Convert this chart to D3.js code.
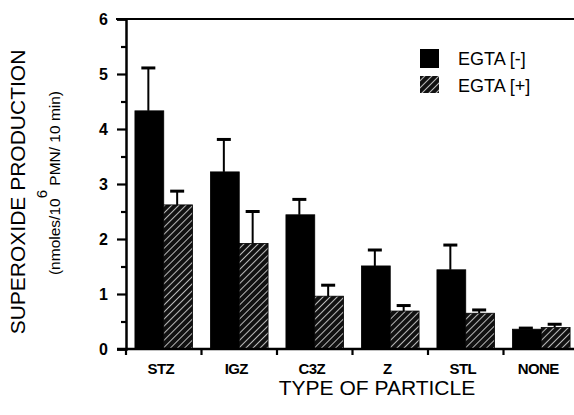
<!DOCTYPE html>
<html lang="en">
<head>
    <meta charset="UTF-8">
    <title>Superoxide production</title>
    <script src="https://d3js.org/d3.v7.min.js"></script>
    <style>
        body { margin: 0; background: #fff; }
        svg { display: block; font-family: "Liberation Sans", Arial, sans-serif; }
    </style>
</head>
<body>
<div id="chart-container"></div>
<script>
    // Data
    const categories = ["STZ", "IGZ", "C3Z", "Z", "STL", "NONE"];
    const seriesNames = ["EGTA [-]", "EGTA [+]"];
    const egtaMinus = [4.33, 3.22, 2.44, 1.51, 1.44, 0.36];
    const egtaMinusErr = [5.11, 3.81, 2.72, 1.80, 1.89, 0.38];
    const egtaPlus = [2.62, 1.92, 0.96, 0.69, 0.65, 0.39];
    const egtaPlusErr = [2.87, 2.50, 1.16, 0.79, 0.71, 0.45];
    const yTicks = [0, 1, 2, 3, 4, 5, 6];

    const width = 574, height = 415;
    const margin = { top: 19, left: 126, bottom: 66 };
    const plotRight = 579;

    // Rows for the grouped bars
    const rows = categories.map((c, i) => ({
        cat: c,
        bars: [
            { s: seriesNames[0], v: egtaMinus[i], e: egtaMinusErr[i] },
            { s: seriesNames[1], v: egtaPlus[i], e: egtaPlusErr[i] }
        ]
    }));

    const svg = d3.select("#chart-container")
        .append("svg")
        .attr("width", width)
        .attr("height", height);

    // hatch pattern: black with thin white diagonals
    const defs = svg.append("defs");
    const pat = defs.append("pattern")
        .attr("id", "hatch")
        .attr("patternUnits", "userSpaceOnUse")
        .attr("width", 5)
        .attr("height", 5)
        .attr("patternTransform", "rotate(45)");
    pat.append("rect").attr("width", 5).attr("height", 5).attr("fill", "#111");
    pat.append("line")
        .attr("x1", 2.5).attr("y1", 0).attr("x2", 2.5).attr("y2", 5)
        .attr("stroke", "#ccc").attr("stroke-width", 0.9);

    const x0 = d3.scaleBand()
        .domain(categories)
        .range([margin.left, plotRight]);

    const x1 = d3.scaleBand()
        .domain(seriesNames)
        .range([0, x0.bandwidth()])
        .paddingOuter(0.31)
        .paddingInner(0);

    const y = d3.scaleLinear()
        .domain([0, 6])
        .range([height - margin.bottom, margin.top]);

    const fills = { "EGTA [-]": "#000", "EGTA [+]": "url(#hatch)" };

    // bars
    const groups = svg.selectAll(".grp")
        .data(rows)
        .enter()
        .append("g")
        .attr("class", "grp")
        .attr("transform", d => `translate(${x0(d.cat)},0)`);

    const bar = groups.selectAll(".bar")
        .data(d => d.bars)
        .enter()
        .append("g");

    // error bars (drawn first so bar covers the bottom)
    bar.append("line")
        .attr("x1", d => x1(d.s) + x1.bandwidth() / 2 - 1)
        .attr("x2", d => x1(d.s) + x1.bandwidth() / 2 - 1)
        .attr("y1", d => y(d.v))
        .attr("y2", d => y(d.e))
        .attr("stroke", "#000")
        .attr("stroke-width", 2);
    bar.append("line")
        .attr("x1", d => x1(d.s) + x1.bandwidth() / 2 - 8)
        .attr("x2", d => x1(d.s) + x1.bandwidth() / 2 + 6)
        .attr("y1", d => y(d.e))
        .attr("y2", d => y(d.e))
        .attr("stroke", "#000")
        .attr("stroke-width", 3);

    bar.append("rect")
        .attr("x", d => x1(d.s))
        .attr("y", d => y(d.v))
        .attr("width", x1.bandwidth())
        .attr("height", d => y(0) - y(d.v))
        .attr("fill", d => fills[d.s])
        .attr("stroke", "#000")
        .attr("stroke-width", 0.8);

    // y axis with half-unit minor ticks
    const yAxis = svg.append("g")
        .attr("transform", `translate(${margin.left},0)`);
    yAxis.call(d3.axisLeft(y).tickValues(d3.range(0.5, 6, 1)).tickSize(5).tickFormat(""))
        .call(g => g.select(".domain").remove());
    yAxis.append("g")
        .call(d3.axisLeft(y).tickValues(yTicks).tickSize(9).tickPadding(9).tickFormat(d3.format("d")))
        .call(g => g.selectAll("text")
            .attr("font-size", 16)
            .attr("font-weight", "bold")
            .attr("fill", "#000"));
    yAxis.selectAll("line").attr("stroke-width", 2.2).attr("stroke", "#000");
    yAxis.selectAll(".domain").attr("stroke-width", 2.5).attr("stroke", "#000");

    // top frame line
    svg.append("line")
        .attr("x1", margin.left - 10).attr("x2", width)
        .attr("y1", y(6)).attr("y2", y(6))
        .attr("stroke", "#000").attr("stroke-width", 2.2);

    // x axis
    const xAxis = svg.append("g")
        .attr("transform", `translate(0,${y(0)})`);
    xAxis.call(d3.axisBottom(x0).tickSize(0).tickPadding(14))
        .call(g => g.select(".domain").attr("d", `M${margin.left - 9},0H${plotRight}`)
            .attr("stroke-width", 2.5))
        .call(g => g.selectAll("text")
            .attr("font-size", 15)
            .attr("font-weight", "bold")
            .attr("fill", "#000")
            .attr("dx", -3)
            .style("letter-spacing", "-0.6px"));
    // group boundary ticks
    xAxis.selectAll(".btick")
        .data(categories)
        .enter()
        .append("line")
        .attr("x1", d => x0(d)).attr("x2", d => x0(d))
        .attr("y1", 0).attr("y2", 6)
        .attr("stroke", "#000").attr("stroke-width", 2.2);

    // axis titles
    svg.append("text")
        .attr("x", 377)
        .attr("y", 395)
        .attr("text-anchor", "middle")
        .attr("font-size", 21)
        .text("TYPE OF PARTICLE");

    svg.append("text")
        .attr("transform", `translate(25,192) rotate(-90)`)
        .attr("text-anchor", "middle")
        .attr("font-size", 21)
        .text("SUPEROXIDE PRODUCTION");

    const sub = svg.append("text")
        .attr("transform", `translate(60,183) rotate(-90)`)
        .attr("text-anchor", "middle")
        .attr("font-size", 15.5);
    sub.append("tspan").text("(nmoles/10");
    sub.append("tspan").attr("dy", -13).attr("font-size", 15).text("6");
    sub.append("tspan").attr("dy", 13).text(" PMN/ 10 min)");

    // legend
    const legend = svg.append("g")
        .attr("transform", "translate(420,49)");
    seriesNames.forEach((s, i) => {
        legend.append("rect")
            .attr("x", 0).attr("y", i * 27)
            .attr("width", 19).attr("height", i === 0 ? 19 : 17)
            .attr("fill", fills[s]);
        legend.append("text")
            .attr("x", 38).attr("y", i * 27 + 16)
            .attr("font-size", 18)
            .text(s);
    });
</script>
</body>
</html>
